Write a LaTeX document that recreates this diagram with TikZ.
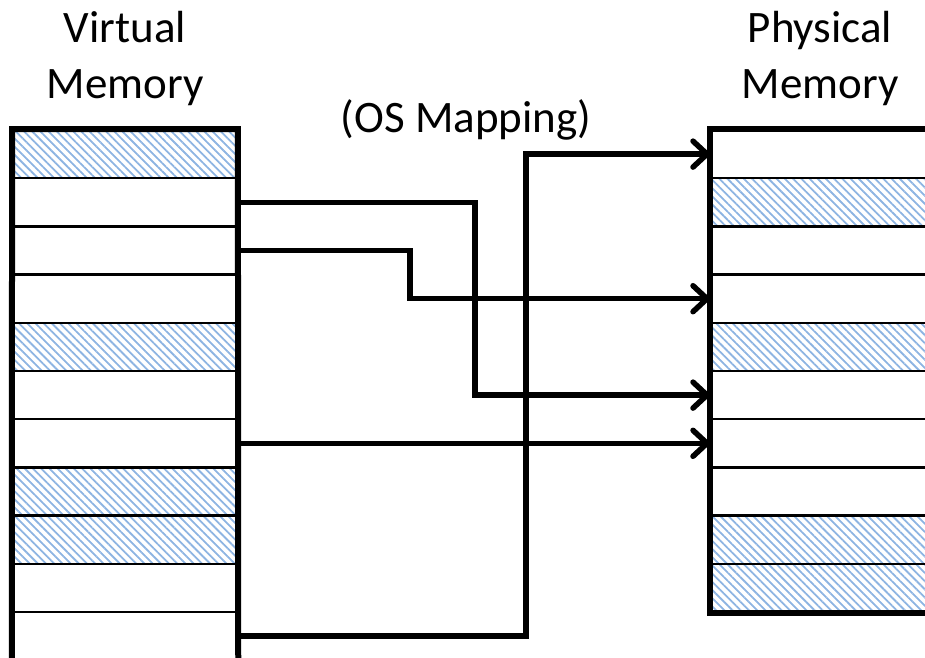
\documentclass[tikz,border=0pt]{standalone}
\usepackage{fontspec}
\setmainfont{Carlito}
\usetikzlibrary{arrows.meta,patterns.meta}
\definecolor{hatch}{RGB}{141,180,226}

\tikzset{
  memrow/.style={draw,line width=2.5pt,inner sep=0pt,minimum height=48.2pt},
  memfree/.style={},
  memused/.style={pattern={Lines[angle=-45,distance=5.8pt,line width=1.8pt]},pattern color=hatch},
  memframe/.style={line width=6pt},
  maplink/.style={line width=5.5pt,-{Straight Barb[length=14pt,width=26pt,round]}},
  headtxt/.style={anchor=base,inner sep=0pt,font=\fontsize{45}{54}\selectfont}
}

\begin{document}
\begin{tikzpicture}[x=1pt,y=-1pt]
  \useasboundingbox (0,0) rectangle (925,657);
  \clip (0,0) rectangle (925,657);

  % titles
  \node[headtxt] (vhead1) at (125,42) {Virtual};
  \node[headtxt] (vhead2) at (125,98) {Memory};
  \node[headtxt] (phead1) at (820,42) {Physical};
  \node[headtxt] (phead2) at (820,98) {Memory};
  \node[headtxt] (maphead) at (466,132) {(OS Mapping)};

  % virtual memory column
  \foreach \i/\s in {1/memused,2/memfree,3/memfree,4/memfree,5/memused,6/memfree,7/memfree,8/memused,9/memused,10/memfree,11/memfree}
    \node[memrow,\s,minimum width=224pt] (v\i) at (125,{130+48.2*(\i-0.5)}) {};
  \draw[memframe] (v11.south west) -- (v1.north west) -- (v1.north east) -- (v11.south east);

  % physical memory column
  \foreach \i/\s in {1/memfree,2/memused,3/memfree,4/memfree,5/memused,6/memfree,7/memfree,8/memfree,9/memused,10/memused}
    \node[memrow,\s,minimum width=230pt] (p\i) at (826,{130+48.2*(\i-0.5)}) {};
  \draw[memframe] (p1.north east) -- (p1.north west) -- (p10.south west) -- (p10.south east);

  % turning points of the mapping lines
  \coordinate (turnA) at (475,0);
  \coordinate (turnB) at (410,0);
  \coordinate (turnC) at (526,0);

  % mapping
  \draw[maplink] (v2.east) -- (v2.east -| turnA) |- (p6.west);
  \draw[maplink] (v3.east) -- (v3.east -| turnB) |- (p4.west);
  \draw[maplink] (v7.east) -- (p7.west);
  \draw[maplink] (v11.east) -- (v11.east -| turnC) |- (p1.west);
\end{tikzpicture}
\end{document}
